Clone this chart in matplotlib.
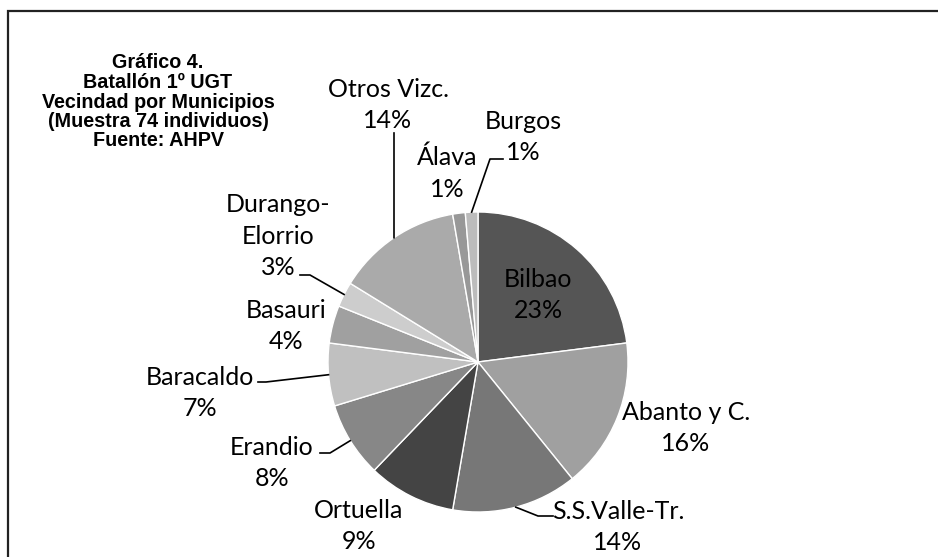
import numpy as np
import matplotlib
matplotlib.use("Agg")
import matplotlib.pyplot as plt
from matplotlib.patches import Rectangle

# ---- data ----
categories = ["Bilbao", "Abanto y C.", "S.S.Valle-Tr.", "Ortuella", "Erandio",
              "Baracaldo", "Basauri", "Durango-\nElorrio", "Otros Vizc.", "Álava", "Burgos"]
counts = [17, 12, 10, 7, 6, 5, 3, 2, 10, 1, 1]
pct_labels = ["23%", "16%", "14%", "9%", "8%", "7%", "4%", "3%", "14%", "1%", "1%"]
title_lines = ["Gráfico 4.", "Batallón 1º UGT", "Vecindad por Municipios",
               "(Muestra 74 individuos)", "Fuente: AHPV"]

# ---- style / layout ----
colors = ["#555555", "#a0a0a0", "#777777", "#444444", "#878787", "#c0c0c0",
          "#a0a0a0", "#cdcdcd", "#aaaaaa", "#989898", "#bcbcbc"]
W, H = 938, 557
cx, cy, R = 478, 362, 150
# label block centres in pixel coordinates
label_pos = [(538, 295), (686, 428), (618, 527), (359, 526), (272, 463),
             (200, 393), (286, 326), (278, 236), (388, 105), (447, 173), (523, 137)]
# leader line knee points (None = no leader)
leaders = [None, None, [(538, 516), (553, 516)], None, [(330, 453), (320, 453)],
           [(266, 382), (258, 382)], None, [(310, 275), (300, 275)],
           [(394, 133)], None, [(490, 159), (503, 159)]]
title_x, title_y0, title_dy = 158, 63, 19.5

fig = plt.figure(figsize=(W / 100, H / 100), dpi=100)
ax = fig.add_axes([0, 0, 1, 1])
wedges, _ = ax.pie(counts, colors=colors, startangle=-90, counterclock=True,
                   center=(cx, cy), radius=R,
                   wedgeprops=dict(edgecolor="white", linewidth=1.0))
ax.set_xlim(0, W)
ax.set_ylim(H, 0)
ax.set_aspect("equal")
ax.axis("off")

lab_font = dict(family=["Lato", "DejaVu Sans"], fontsize=18, color="black")
total = sum(counts)
cum = np.concatenate([[0], np.cumsum(counts)])
for i, (cat, pct) in enumerate(zip(categories, pct_labels)):
    x, y = label_pos[i]
    ax.text(x, y, f"{cat}\n{pct}", ha="center", va="center", linespacing=1.45,
            **lab_font)
    if leaders[i] is not None:
        mid = (cum[i] + cum[i + 1]) / 2 / total * 2 * np.pi
        ex, ey = cx + R * np.sin(mid), cy - R * np.cos(mid)
        pts = [(ex, ey)] + leaders[i]
        ax.plot([p[0] for p in pts], [p[1] for p in pts], color="black", lw=1.2)

for k, line in enumerate(title_lines):
    ax.text(title_x, title_y0 + k * title_dy, line, ha="center", va="center",
            family=["Liberation Sans", "DejaVu Sans"], fontweight="bold",
            fontsize=14.2)

fig.patches.append(Rectangle((8 / W, -1), 2, 2 - 11 / H, transform=fig.transFigure,
                             fill=False, edgecolor="#222222", lw=1.6))
fig.savefig("out.png", dpi=100)
